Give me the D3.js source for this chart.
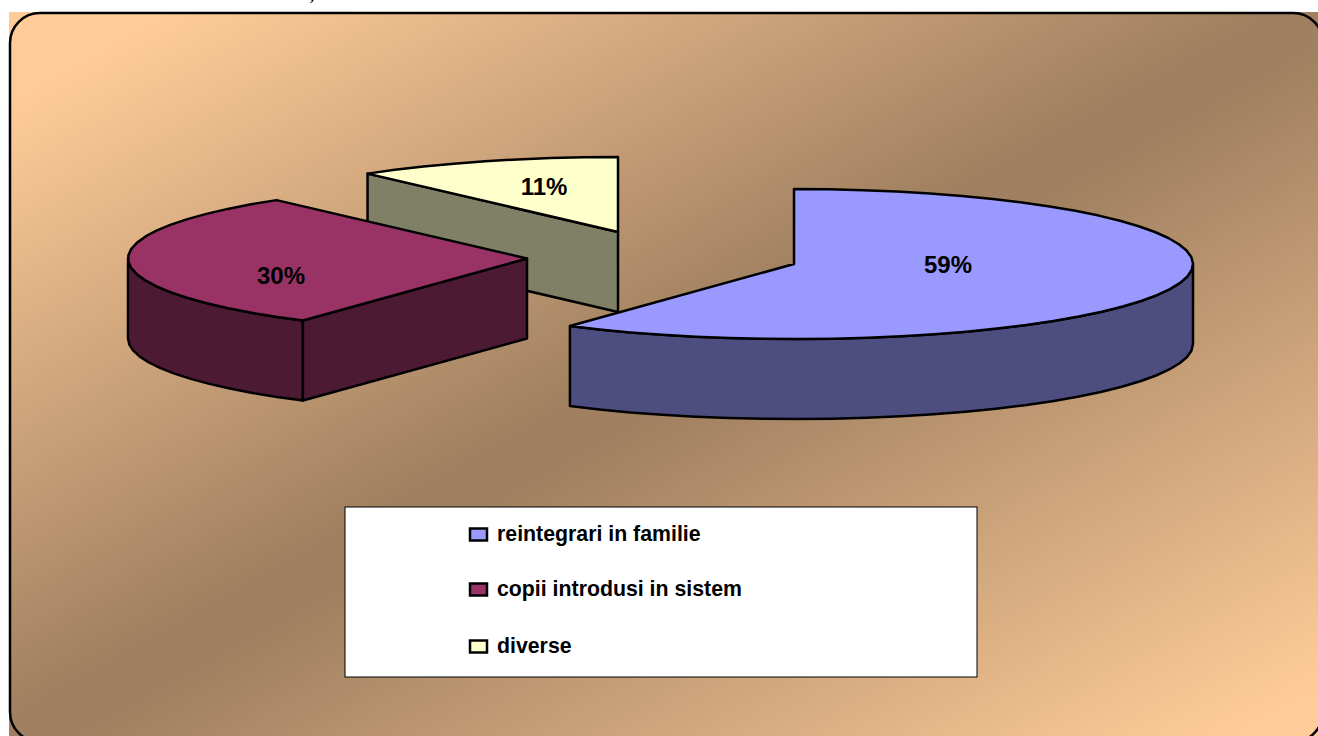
<!DOCTYPE html>
<html>
<head>
<meta charset="utf-8">
<script src="https://cdn.jsdelivr.net/npm/d3@7"></script>
<style>
html,body{margin:0;padding:0;background:#fff;overflow:hidden}
svg{display:block}
text{font-family:"Liberation Sans",Arial,sans-serif;font-weight:bold;fill:#000}
</style>
</head>
<body>
<svg id="chart" width="1318" height="736"></svg>
<script>
// data
const categories = ["reintegrari in familie", "copii introdusi in sistem", "diverse"];
const values = [59.49, 29.71, 10.8];
const labels = ["59%", "30%", "11%"];
const topColors = ["#9999FF", "#993366", "#FFFFCC"];
const sideColors = ["#4D4D80", "#4D1A33", "#808066"];

// layout
const W = 1318, H = 736;
const apexX = [794, 527, 618], apexY = [264, 258.5, 232];
const RX = 399, RY = 75, DEPTH = 80;
const labelX = [948, 281, 544], labelY = [264.5, 275.5, 186.5];
const legendY = [534, 589, 646];

const svg = d3.select("#chart");
const defs = svg.append("defs");
const grad = defs.append("linearGradient").attr("id","bg")
  .attr("x1",0).attr("y1",0).attr("x2",1).attr("y2",1);
[["0%","#FFCC99"],["6%","#FFCC99"],["48%","#A08060"],["52%","#A08060"],["96%","#FFCC99"],["100%","#FFCC99"]].forEach(s=>
  grad.append("stop").attr("offset",s[0]).attr("stop-color",s[1]));

// stray mark above the frame
svg.append("text").attr("x",310).attr("y",1).attr("font-size",16)
  .style("font-family","Liberation Serif").text(",");

svg.append("rect").attr("x",9).attr("y",12).attr("width",1316).attr("height",732).attr("fill","url(#bg)");
svg.append("rect").attr("x",10).attr("y",13).attr("width",1313).attr("height",729).attr("rx",30).attr("ry",30)
  .attr("fill","none").attr("stroke","#000").attr("stroke-width",2.5);

// pie angles via d3
const arcs = d3.pie().sort(null).value(d=>d)(values);
const sx = d3.scaleLinear().domain([-1,1]).range([-RX,RX]);
const sy = d3.scaleLinear().domain([-1,1]).range([-RY,RY]);
const line = d3.line();
const step = Math.PI/36;

function rim(i, a0, a1, dz){
  const pts = [], n = Math.max(1, Math.ceil((a1-a0)/step));
  for(let k=0;k<=n;k++){
    const t = a0+(a1-a0)*k/n;
    pts.push([apexX[i]+sx(Math.sin(t)), apexY[i]+sy(-Math.cos(t))+dz]);
  }
  return pts;
}
function shape(fill, pts){
  svg.append("path").attr("d", line(pts)+"Z").attr("fill",fill)
    .attr("stroke","#000").attr("stroke-width",2.5).attr("stroke-linejoin","round");
}

// back to front: yellow, red, blue
[2,1,0].forEach(i=>{
  const a = arcs[i], apex=[apexX[i],apexY[i]], base=[apexX[i],apexY[i]+DEPTH];
  const s = a.startAngle, e = a.endAngle;
  // outer wall: the part of the rim facing the viewer (90deg to 270deg)
  const w0 = Math.max(s, Math.PI/2), w1 = Math.min(e, Math.PI*1.5);
  if(w1 > w0){
    const top = rim(i,w0,w1,0), bot = rim(i,w0,w1,DEPTH).reverse();
    shape(sideColors[i], top.concat(bot));
  }
  // radial face at start when it faces the viewer (left half, start edge)
  if(s > Math.PI && s < Math.PI*2){
    const p = rim(i,s,s,0)[0];
    shape(sideColors[i], [p, apex, base, [p[0],p[1]+DEPTH]]);
  }
  // top face
  shape(topColors[i], [apex].concat(rim(i,s,e,0)));
});

// data labels
labels.forEach((t,i)=>{
  svg.append("text").attr("x",labelX[i]).attr("y",labelY[i]).attr("dy","0.36em")
    .attr("text-anchor","middle").attr("font-size",24).text(t);
});

// legend
svg.append("rect").attr("x",345).attr("y",507).attr("width",632).attr("height",170)
  .attr("fill","#fff").attr("stroke","#000").attr("stroke-width",1);
categories.forEach((c,i)=>{
  svg.append("rect").attr("x",470).attr("y",legendY[i]-5.5).attr("width",17).attr("height",12)
    .attr("fill",topColors[i]).attr("stroke","#000").attr("stroke-width",2.5);
  svg.append("text").attr("x",497).attr("y",legendY[i]).attr("dy","0.33em")
    .attr("font-size",21.3).text(c);
});
</script>
</body>
</html>
